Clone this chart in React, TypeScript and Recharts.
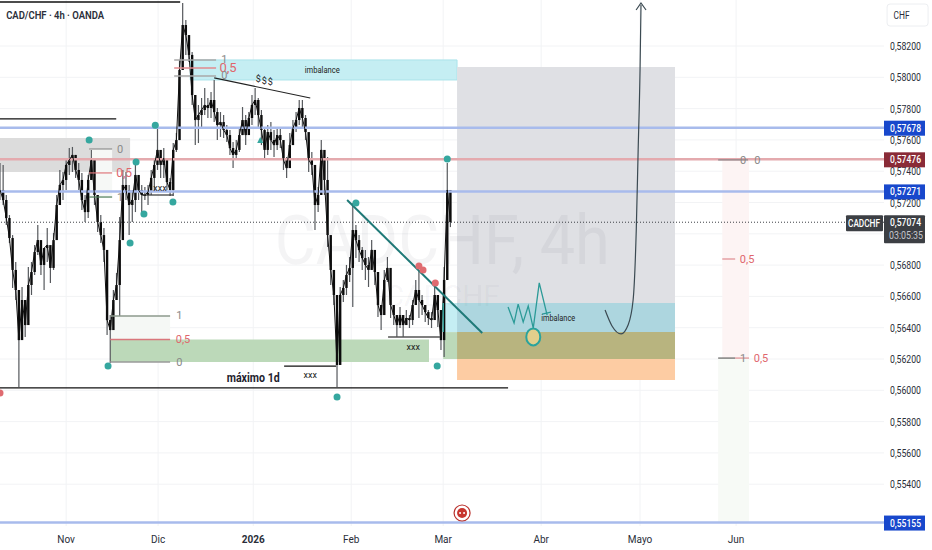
import {
  Bar,
  CartesianGrid,
  ComposedChart,
  Line,
  ReferenceArea,
  ReferenceDot,
  ReferenceLine,
  XAxis,
  YAxis,
} from 'recharts';

// prices are kept in 1e-5 units, 57074 = 0,57074
const highs = [
  57452, 57440, 57248, 57120, 56992, 56820, 56577, 56660, 56545, 56788, 56820, 56928, 57056, 56897, 56833, 57037, 56897, 57005, 57248, 57408,
  57395, 57484, 57548, 57555, 57504, 57452, 57389, 57248, 57376, 57536, 57484, 57248, 57120, 57037, 56897, 56481, 56641, 56750, 57107, 57408,
  57395, 57312, 57280, 57452, 57376, 57312, 57299, 57312, 57408, 57472, 57682, 57536, 57548, 57440, 57357, 57580, 57644, 58111, 58475, 58366,
  58238, 58162, 57887, 57823, 57868, 57932, 57868, 57906, 57983, 57804, 57778, 57759, 57695, 57663, 57587, 57599, 57676, 57810, 57759, 57778,
  57887, 57932, 57868, 57791, 57676, 57695, 57714, 57663, 57676, 57682, 57567, 57491, 57644, 57727, 57778, 57855, 57855, 57759, 57599, 57523,
  57363, 57299, 57599, 57452, 57491, 56928, 56686, 56449, 56660, 56705, 56801, 56852, 57197, 57056, 56992, 56916, 56897, 56852, 56960, 56845,
  56641, 56545, 56769, 56852, 56654, 56545, 56481, 56532, 56481, 56513, 56481, 56577, 56705, 56769, 56609, 56545, 56513, 56500, 56660, 56609,
  56417, 56788, 57452, 57280,
];
const lows = [
  57216, 57184, 57056, 56941, 56654, 56577, 56021, 56366, 56341, 56449, 56609, 56737, 56865, 56737, 56641, 56820, 56686, 56769, 56960, 57184,
  57216, 57280, 57376, 57395, 57357, 57280, 57152, 57075, 57101, 57344, 57184, 57011, 56941, 56820, 56353, 56174, 56417, 56577, 56475, 56960,
  57216, 56992, 57075, 57139, 57216, 57139, 57216, 57184, 57248, 57280, 57408, 57357, 57357, 57280, 57242, 57242, 57523, 57599, 58047, 58143,
  58098, 57823, 57567, 57580, 57676, 57759, 57740, 57740, 57714, 57599, 57619, 57612, 57587, 57504, 57420, 57472, 57523, 57631, 57567, 57631,
  57695, 57759, 57676, 57567, 57484, 57504, 57536, 57491, 57536, 57548, 57408, 57357, 57472, 57567, 57650, 57695, 57676, 57599, 57395, 57376,
  57024, 57139, 57395, 57248, 56916, 56673, 56545, 56021, 56213, 56564, 56609, 56692, 56532, 56845, 56820, 56769, 56705, 56660, 56782, 56673,
  56468, 56385, 56609, 56692, 56462, 56417, 56341, 56398, 56341, 56417, 56398, 56417, 56577, 56462, 56481, 56436, 56417, 56398, 56481, 56404,
  56258, 56213, 56705, 57043,
];
const closes = [
  57280, 57216, 57101, 56973, 56769, 56641, 56321, 56577, 56417, 56673, 56756, 56884, 56960, 56801, 56909, 56928, 56782, 56960, 57184, 57312,
  57344, 57440, 57472, 57504, 57408, 57344, 57216, 57139, 57344, 57472, 57248, 57075, 56992, 56897, 56449, 56385, 56577, 56673, 56960, 57312,
  57280, 57184, 57216, 57376, 57280, 57248, 57248, 57267, 57357, 57440, 57536, 57440, 57484, 57331, 57280, 57536, 57599, 58047, 58334, 58270,
  58143, 57887, 57727, 57759, 57791, 57823, 57804, 57855, 57778, 57695, 57714, 57663, 57631, 57548, 57504, 57536, 57631, 57727, 57631, 57740,
  57823, 57855, 57759, 57663, 57536, 57650, 57599, 57567, 57631, 57599, 57472, 57420, 57567, 57676, 57727, 57804, 57740, 57650, 57472, 57440,
  57184, 57248, 57536, 57344, 56992, 56769, 56609, 56162, 56609, 56654, 56737, 56782, 57024, 56960, 56897, 56845, 56801, 56769, 56897, 56756,
  56545, 56481, 56705, 56782, 56545, 56481, 56417, 56481, 56417, 56462, 56449, 56545, 56641, 56577, 56545, 56500, 56462, 56449, 56609, 56513,
  56321, 56705, 57280, 57075,
];
const firstSession = -21;

const priceTicks = [
  58200, 58000, 57800, 57600, 57400, 57200, 57000, 56800, 56600, 56400, 56200, 56000, 55800, 55600, 55400,
];
const levelsBlue = [57678, 57271, 55155];
const levelRed = 57476;
const lastPrice = 57074;

const monthSessions = [0, 29.2, 59.4, 90.5, 119.7, 150.8, 182.2, 212.7];
const monthLabels = ['Nov', 'Dic', '2026', 'Feb', 'Mar', 'Abr', 'Mayo', 'Jun'];

const tealDots = [
  [7.3, 57599], [28.3, 57693], [22.2, 57459], [20.3, 56941], [24.7, 57127], [33.9, 57203], [13.3, 56155],
  [92, 57197], [121, 57478], [86, 55957], [117.8, 56155],
];
const redDots = [[112, 56794], [113.3, 56769], [117.2, 56686], [-21, 55983]];

const zigzag = [
  { s: 140.3, p: 56532 }, { s: 142.2, p: 56430 }, { s: 143.5, p: 56551 }, { s: 145.1, p: 56436 },
  { s: 146.7, p: 56539 }, { s: 148.3, p: 56398 }, { s: 150.2, p: 56686 }, { s: 152.7, p: 56481 },
];
const forecastCurve = [
  { s: 171.1, p: 56513 }, { s: 173.3, p: 56411 }, { s: 176.2, p: 56360 }, { s: 178.4, p: 56417 },
  { s: 180, p: 56577 }, { s: 181, p: 57024 }, { s: 181.6, p: 57536 }, { s: 182.2, p: 58047 }, { s: 182.5, p: 58462 },
];
const forecastHead = [{ s: 180.95, p: 58430 }, { s: 182.5, p: 58475 }, { s: 184.1, p: 58430 }];

const candles = highs.map((high, i) => ({
  s: firstSession + i,
  range: [lows[i], high],
  high,
  low: lows[i],
  open: i === 0 ? closes[0] : closes[i - 1],
  close: closes[i],
}));

const FONT = 'Roboto, sans-serif';
const fmt = (v: number) => (v / 100000).toFixed(5).replace('.', ',');

const Candle = (props: any) => {
  const { x, y, width, height, payload } = props;
  const top = Math.min(y, y + height);
  const h = Math.abs(height);
  const span = payload.high - payload.low;
  const toY = (v: number) => top + ((payload.high - v) / span) * h;
  const cx = x + width / 2;
  const a = toY(Math.max(payload.open, payload.close));
  const b = toY(Math.min(payload.open, payload.close));
  return (
    <g>
      <line x1={cx} x2={cx} y1={top} y2={top + h} stroke="#55585c" strokeWidth={1.2} />
      <rect x={cx - 1.2} y={a} width={2.4} height={Math.max(b - a, 1)} fill="#0b0b0b" />
    </g>
  );
};

const squeezed = (length: number) => ({ textLength: length, lengthAdjust: 'spacingAndGlyphs' as const });

const PriceTick = (props: any) => {
  const { x, y, payload } = props;
  const v = payload.value;
  const left = x - 6;
  if (v === lastPrice) {
    return (
      <g fontFamily={FONT}>
        <rect x={left - 38} y={y - 7} width={37} height={16} fill="#3c3f44" rx={1} />
        <text x={left - 36} y={y + 5} fontSize={10.5} fill="#fff" fontWeight={500} {...squeezed(32)}>CADCHF</text>
        <rect x={left} y={y - 7} width={41} height={28} fill="#3c3f44" rx={1} />
        <text x={left + 6} y={y + 4} fontSize={11} fill="#fff" fontWeight={500} {...squeezed(31)}>{fmt(v)}</text>
        <text x={left + 5} y={y + 17} fontSize={11} fill="#c4c7cc" {...squeezed(34)}>03:05:35</text>
      </g>
    );
  }
  if (v === levelRed || levelsBlue.includes(v)) {
    return (
      <g fontFamily={FONT}>
        <rect x={left} y={y - 7} width={41} height={15} fill={v === levelRed ? '#8a2b37' : '#1848cc'} />
        <text x={left + 6} y={y + 4} fontSize={11} fill="#fff" fontWeight={500} {...squeezed(31)}>{fmt(v)}</text>
      </g>
    );
  }
  return (
    <text x={left + 6} y={y + 4} fontFamily={FONT} fontSize={11} fill="#2a2e39" {...squeezed(31)}>{fmt(v)}</text>
  );
};

const MonthTick = (props: any) => {
  const { x, y, payload } = props;
  const label = monthLabels[monthSessions.indexOf(payload.value)];
  return (
    <text x={x} y={y + 9} textAnchor="middle" fontFamily={FONT} fontSize={10} fill="#2a2e39" fontWeight={label === '2026' ? 700 : 400}>
      {label}
    </text>
  );
};

const note = (s: number, p: number, text: string, color: string, size: number, weight = 400, anchor = 'middle', length?: number) => (
  <ReferenceDot
    key={`${text}-${s}-${p}`}
    x={s}
    y={p}
    r={0}
    ifOverflow="visible"
    shape={(d: any) => (
      <text
        x={d.cx}
        y={d.cy}
        dy="0.35em"
        textAnchor={anchor as any}
        fontFamily={FONT}
        fontSize={size}
        fontWeight={weight}
        fill={color}
        {...(length ? squeezed(length) : {})}
      >
        {text}
      </text>
    )}
  />
);

const seg = (s1: number, p1: number, s2: number, p2: number, color: string, w: number) => (
  <ReferenceLine
    key={`${s1}-${p1}-${s2}-${p2}`}
    segment={[{ x: s1, y: p1 }, { x: s2, y: p2 }]}
    stroke={color}
    strokeWidth={w}
    ifOverflow="visible"
  />
);

const zone = (s1: number, p1: number, s2: number, p2: number, fill: string, stroke?: string) => (
  <ReferenceArea
    key={`${s1}-${p1}-${fill}`}
    x1={s1}
    x2={s2}
    y1={p1}
    y2={p2}
    fill={fill}
    fillOpacity={1}
    stroke={stroke ?? 'none'}
    ifOverflow="visible"
  />
);

const dot = (s: number, p: number, color: string) => (
  <ReferenceDot key={`dot-${s}-${p}`} x={s} y={p} r={3.5} fill={color} stroke="none" ifOverflow="visible" />
);

export default function App() {
  return (
    <div style={{ position: 'absolute', left: 0, top: 0, width: 932, height: 550, background: '#fff' }}>
      <ComposedChart
        width={932}
        height={550}
        data={candles}
        margin={{ top: 0, right: 0, bottom: 0, left: 0 }}
        barSize={2}
      >
        <CartesianGrid stroke="#f2f3f5" horizontalValues={priceTicks} verticalValues={monthSessions} />
        <XAxis
          dataKey="s"
          type="number"
          domain={[-21, 259.65]}
          allowDataOverflow
          ticks={monthSessions}
          interval={0}
          tick={MonthTick}
          axisLine={false}
          tickLine={false}
          height={24}
        />
        <YAxis
          orientation="right"
          type="number"
          domain={[55133, 58494]}
          allowDataOverflow
          ticks={[...priceTicks, lastPrice, ...levelsBlue, levelRed]}
          interval={0}
          tick={PriceTick}
          axisLine={false}
          tickLine={false}
          tickMargin={0}
          width={48}
        />

        {zone(-21, 57612, 20.3, 57395, '#dcdcdc')}
        {zone(7.6, 57542, 14.6, 57235, '#f6f8f6')}
        {zone(14, 56475, 33, 56325, '#f5f8f5')}
        {zone(14, 56325, 115.2, 56181, '#bcd9b9')}
        {zone(39.4, 58111, 124.1, 57983, '#c5eef3', '#aae3ea')}
        {zone(124.1, 58066, 193.3, 56558, '#dfe0e4')}
        {zone(119.7, 56558, 124.1, 56372, '#c5eef3')}
        {zone(124.1, 56558, 193.3, 56372, '#add6df')}
        {zone(119.7, 56372, 124.1, 56200, '#bcd9b9')}
        {zone(124.1, 56372, 193.3, 56200, '#b8b47f')}
        {zone(124.1, 56200, 193.3, 56066, '#fdcca3')}
        {zone(208.3, 57472, 216.8, 56206, '#fdf4f4')}
        {zone(207, 56206, 216.8, 55158, '#f7faf6')}

        {note(119.4, 56960, 'CADCHF, 4h', 'rgba(50,55,70,0.055)', 68, 400, 'middle', 335)}
        {note(119.4, 56609, 'CADCHF', 'rgba(50,55,70,0.055)', 30, 400, 'middle', 115)}

        {levelsBlue.map((v) => (
          <ReferenceLine key={v} y={v} stroke="#a8bbec" strokeWidth={2.5} />
        ))}
        <ReferenceLine y={levelRed} stroke="#e4aaae" strokeWidth={2.5} />
        <ReferenceLine y={lastPrice} stroke="#3c3f44" strokeDasharray="1 2" strokeWidth={1} segment={[{ x: -21, y: lastPrice }, { x: 247.7, y: lastPrice }]} />

        <Bar dataKey="range" data={candles} shape={Candle} isAnimationActive={false} />
        <Line data={candles} dataKey="close" type="linear" stroke="#111" strokeWidth={1} dot={false} activeDot={false} isAnimationActive={false} />

        {seg(-21, 58481, 36.2, 58481, '#111', 1.5)}
        {seg(-21, 57734, 15.9, 57734, '#111', 1.2)}
        {seg(-21, 56015, 140.3, 56015, '#111', 1.3)}
        {seg(69.2, 56155, 85.7, 56155, '#111', 1.2)}
        {seg(24.4, 57248, 34, 57248, '#333', 1.2)}
        {seg(102.2, 56341, 118.7, 56341, '#555', 1.4)}
        {seg(47, 57996, 77.5, 57868, '#222', 1.2)}
        {seg(89.2, 57216, 132.1, 56366, '#1f7a78', 2)}
        {seg(119.7, 56558, 119.7, 56372, '#3aa9a3', 1.5)}
        {seg(151.1, 56487, 153.9, 56500, '#2b9a97', 1.2)}

        {seg(34.3, 58111, 47.6, 58111, '#a9a9a9', 1.5)}
        {seg(34.3, 58059, 47.6, 58059, '#e08a8e', 1.5)}
        {seg(34.3, 58008, 47.6, 58008, '#a9a9a9', 1.5)}
        {seg(7.3, 57542, 14.6, 57542, '#8f8f8f', 1.2)}
        {seg(7.3, 57389, 14.6, 57389, '#e0777c', 1.2)}
        {seg(7.3, 57235, 14.6, 57235, '#4d7d58', 1.2)}
        {seg(14, 56475, 33, 56475, '#8d9a8d', 1.4)}
        {seg(14, 56325, 33, 56325, '#d9777c', 1.4)}
        {seg(14, 56181, 33, 56181, '#9a9a9a', 1.4)}
        {seg(207, 57472, 216.5, 57472, '#77797d', 1)}
        {seg(208.3, 56839, 212.4, 56839, '#d9777c', 1)}
        {seg(207, 56206, 212.4, 56206, '#444', 1)}
        {seg(212.4, 56206, 216.8, 56206, '#d9777c', 1)}

        <Line data={zigzag} dataKey="p" type="linear" stroke="#2b9a97" strokeWidth={1.3} dot={false} activeDot={false} isAnimationActive={false} />
        <Line data={forecastCurve} dataKey="p" type="monotone" stroke="#3b4a52" strokeWidth={1.2} dot={false} activeDot={false} isAnimationActive={false} />
        <Line data={forecastHead} dataKey="p" type="linear" stroke="#3b4a52" strokeWidth={1.2} dot={false} activeDot={false} isAnimationActive={false} />

        {tealDots.map(([s, p]) => dot(s, p, '#35a79f'))}
        {redDots.map(([s, p]) => dot(s, p, '#df6b70'))}
        <ReferenceDot
          x={61.6}
          y={57599}
          r={0}
          shape={(d: any) => <polygon points={`${d.cx - 3},${d.cy + 3} ${d.cx + 3},${d.cy + 3} ${d.cx},${d.cy - 3}`} fill="#35a79f" />}
        />
        <ReferenceDot
          x={148.3}
          y={56341}
          r={0}
          shape={(d: any) => <ellipse cx={d.cx} cy={d.cy} rx={7} ry={8.5} fill="#e2cf8c" stroke="#2aa39d" strokeWidth={2} />}
        />
        <ReferenceDot
          x={125.7}
          y={55216}
          r={0}
          shape={(d: any) => (
            <g>
              <circle cx={d.cx} cy={d.cy} r={8} fill="#fff" stroke="#b9302b" strokeWidth={1.2} />
              <circle cx={d.cx} cy={d.cy} r={5} fill="#c7352f" />
              <circle cx={d.cx - 2} cy={d.cy} r={1} fill="#fff" />
              <circle cx={d.cx + 2} cy={d.cy} r={1} fill="#fff" />
            </g>
          )}
        />

        {note(-19.05, 58398, 'CAD/CHF · 4h · OANDA', '#2a2e39', 11, 600, 'start', 98)}
        {note(81.3, 58047, 'imbalance', '#222', 9.5, 400, 'middle', 35)}
        {note(156.2, 56462, 'imbalance', '#222', 9.5, 400, 'middle', 34)}
        {note(61, 57989, '$', '#222', 9)}
        {note(62.9, 57976, '$', '#222', 9)}
        {note(64.8, 57970, '$', '#222', 9)}
        {note(50.2, 58117, '1', '#8a8a8a', 11)}
        {note(51.4, 58066, '0,5', '#e0666c', 13)}
        {note(50.2, 58015, '0', '#8a8a8a', 11)}
        {note(17.1, 57542, '0', '#8a8a8a', 11)}
        {note(18.4, 57389, '0,5', '#e0666c', 12)}
        {note(17.1, 57235, '1', '#8a8a8a', 11)}
        {note(35.9, 56478, '1', '#8a8a8a', 11)}
        {note(37.1, 56325, '0,5', '#e0666c', 11)}
        {note(35.9, 56181, '0', '#8a8a8a', 11)}
        {note(214.9, 57472, '0', '#8a8a8a', 11)}
        {note(219.4, 57472, '0', '#8a8a8a', 11)}
        {note(216.2, 56839, '0,5', '#e0666c', 11)}
        {note(214.9, 56206, '1', '#8a8a8a', 11)}
        {note(220.6, 56206, '0,5', '#e0666c', 11)}
        {note(29.8, 57293, 'xxx', '#222', 9)}
        {note(110.2, 56277, 'xxx', '#222', 9)}
        {note(77.5, 56098, 'xxx', '#222', 9)}
        {note(59.4, 56079, 'máximo 1d', '#1e222d', 12, 700, 'middle', 53)}

        <ReferenceDot
          x={250}
          y={58398}
          r={0}
          ifOverflow="visible"
          shape={(d: any) => (
            <g>
              <rect x={d.cx + 33.5} y={d.cy - 11} width={41} height={22} rx={3} fill="#fff" stroke="#eceef1" />
              <text x={d.cx + 40} y={d.cy + 4} fontFamily={FONT} fontSize={11} fill="#2a2e39" {...squeezed(16)}>CHF</text>
            </g>
          )}
        />
      </ComposedChart>
    </div>
  );
}
